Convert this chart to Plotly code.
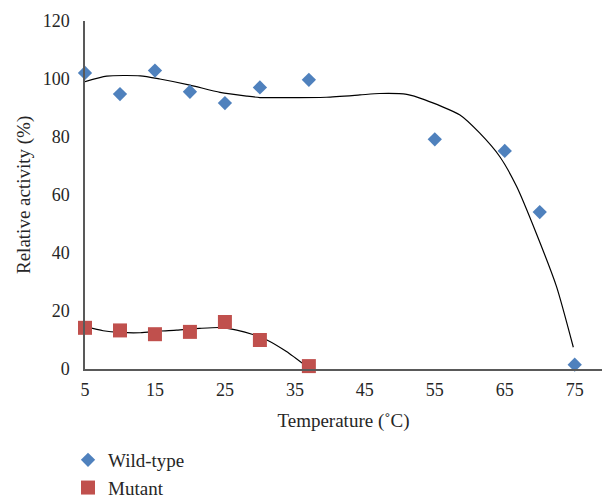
import plotly.graph_objects as go

# Measured points
temps_wt = [5, 10, 15, 20, 25, 30, 37, 55, 65, 70, 75]
act_wt = [102.1, 94.8, 102.9, 95.6, 91.7, 97.1, 99.7, 79.2, 75.2, 54.1, 1.5]

temps_mut = [5, 10, 15, 20, 25, 30, 37]
act_mut = [14.2, 13.3, 12.0, 12.8, 16.2, 10.0, 1.0]

# Trend curves
curve_wt_x = [5, 8.1, 12.9, 15.7, 20, 24.3, 28.1, 30, 35, 39.5, 44.3, 47.1, 51, 53.6,
              58.6, 61.4, 64.3, 66.7, 69.5, 72.4, 74.8]
curve_wt_y = [99.1, 101.0, 101.1, 100.0, 97.9, 95.4, 94.1, 93.6, 93.6, 93.7, 94.5, 95.0, 94.7,
              92.8, 87.6, 81.4, 73.2, 62.9, 46.8, 28.4, 7.5]

curve_mut_x = [5, 7.6, 10, 12.9, 15.7, 18.1, 21.4, 24.3, 26.7, 29, 31, 33.8, 36.7]
curve_mut_y = [14.6, 13.2, 12.6, 12.5, 13.1, 13.4, 14.0, 14.3, 13.4, 11.9, 10.0, 6.0, 0.8]

x_ticks = [5, 15, 25, 35, 45, 55, 65, 75]
y_ticks = [0, 20, 40, 60, 80, 100, 120]

FONT = "Liberation Serif"
AXIS_COLOR = "#595959"

fig = go.Figure()

fig.add_trace(go.Scatter(x=curve_wt_x, y=curve_wt_y, mode="lines",
                         line=dict(color="black", width=1.2, shape="spline", smoothing=0.6),
                         showlegend=False, hoverinfo="skip"))
fig.add_trace(go.Scatter(x=curve_mut_x, y=curve_mut_y, mode="lines",
                         line=dict(color="black", width=1.2, shape="spline", smoothing=0.6),
                         showlegend=False, hoverinfo="skip"))

fig.add_trace(go.Scatter(x=temps_wt, y=act_wt, mode="markers", name="Wild-type",
                         marker=dict(symbol="diamond", size=11, color="#4F81BD"),
                         cliponaxis=False))
fig.add_trace(go.Scatter(x=temps_mut, y=act_mut, mode="markers", name="Mutant",
                         marker=dict(symbol="square", size=14, color="#C0504D"),
                         cliponaxis=False))

fig.update_layout(
    width=602, height=500,
    margin=dict(l=85, r=0, t=21, b=131, autoexpand=False),
    paper_bgcolor="white", plot_bgcolor="white",
    font=dict(family=FONT, size=18, color="#262626"),
    showlegend=True,
    legend=dict(xref="container", yref="container", x=0.113, y=0.118,
                xanchor="left", yanchor="top",
                font=dict(family=FONT, size=19, color="#262626"),
                bgcolor="rgba(0,0,0,0)", tracegroupgap=0),
    annotations=[dict(text="Relative activity (%)", textangle=-90,
                      xref="paper", yref="paper", x=-0.118, y=0.5,
                      xanchor="center", yanchor="middle", showarrow=False,
                      font=dict(family=FONT, size=19, color="#262626"))],
)

fig.update_xaxes(range=[5, 78.9], tickvals=x_ticks, ticktext=[str(v) for v in x_ticks],
                 showgrid=False, zeroline=False, showline=True, linecolor=AXIS_COLOR,
                 linewidth=1.5, ticks="", ticklabelstandoff=4,
                 title=dict(text="Temperature (˚C)", font=dict(size=19), standoff=14))
fig.update_yaxes(range=[0, 120], tickvals=y_ticks, ticktext=[str(v) for v in y_ticks],
                 showgrid=False, zeroline=False, showline=True, linecolor=AXIS_COLOR,
                 linewidth=1.5, ticks="", ticklabelstandoff=10)

fig.write_html("out.html", config={"displayModeBar": False},
               post_script="document.body.style.margin='0';")
